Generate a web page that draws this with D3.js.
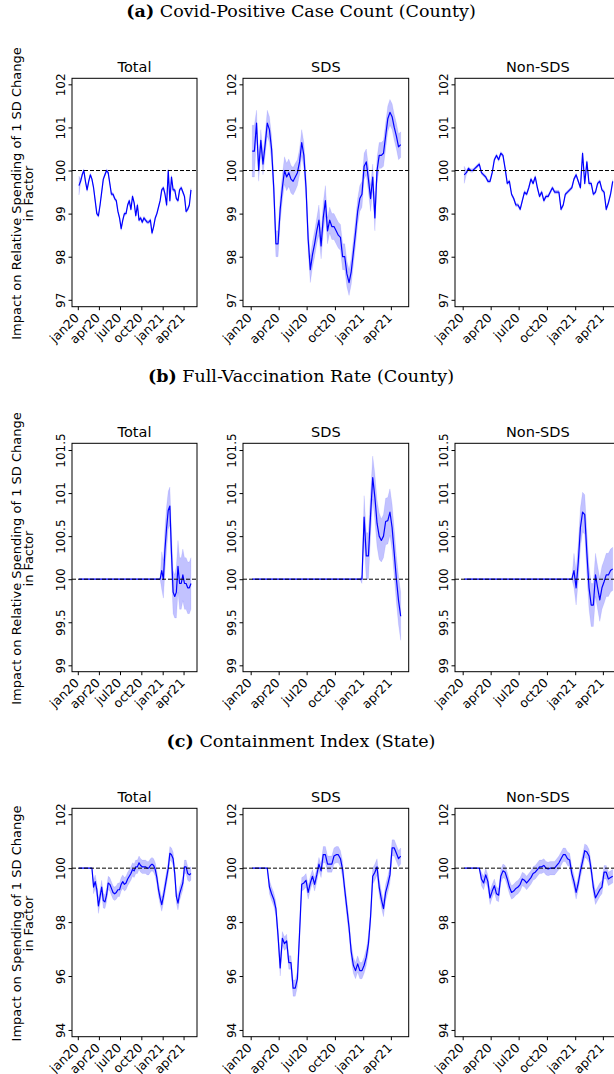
<!DOCTYPE html>
<html>
<head>
<meta charset="utf-8">
<script src="https://cdn.jsdelivr.net/npm/d3@7"></script>
<style>
  body { margin: 0; background: #fff; }
  svg { display: block; }
</style>
</head>
<body>
<script>
// weekly estimates, first week = 6 Jan 2020 (70 weeks)
const caseTotal = [
  99.65, 99.75, 99.9, 100.0, 99.75, 99.55, 99.75, 99.9, 99.8, 99.6,
  99.3, 99.0, 98.95, 99.2, 99.5, 99.8, 99.9, 100.0, 99.95, 99.7,
  99.45, 99.45, 99.35, 99.3, 99.05, 98.9, 98.65, 98.85, 99.0, 99.0,
  99.2, 99.3, 99.1, 99.4, 99.25, 98.95, 99.2, 98.85, 98.9, 98.8,
  98.9, 98.85, 98.8, 98.8, 98.85, 98.55, 98.7, 98.9, 99.0, 99.15,
  99.3, 99.55, 99.6, 99.45, 99.2, 100.0, 99.3, 99.85, 99.55, 99.55,
  99.35, 99.3, 99.55, 99.6, 99.5, 99.4, 99.05, 99.1, 99.2, 99.55
];
const caseTotalCi = [
  0.22, 0.05, 0.04, 0.04, 0.04, 0.04, 0.04, 0.04, 0.04, 0.04,
  0.04, 0.04, 0.04, 0.04, 0.04, 0.04, 0.04, 0.04, 0.04, 0.04,
  0.04, 0.04, 0.04, 0.04, 0.04, 0.04, 0.04, 0.04, 0.04, 0.04,
  0.04, 0.04, 0.04, 0.04, 0.04, 0.04, 0.04, 0.04, 0.04, 0.04,
  0.04, 0.04, 0.04, 0.04, 0.04, 0.04, 0.04, 0.04, 0.04, 0.04,
  0.04, 0.04, 0.04, 0.04, 0.04, 0.04, 0.04, 0.04, 0.04, 0.04,
  0.04, 0.04, 0.04, 0.04, 0.04, 0.04, 0.04, 0.04, 0.04, 0.04
];
const caseSds = [
  100.45, 100.45, 101.1, 100.0, 100.7, 100.15, 100.6, 101.1, 100.95, 100.5,
  99.6, 98.3, 98.3, 99.1, 99.6, 100.0, 99.85, 99.95, 99.8, 99.75,
  99.85, 99.95, 100.2, 100.65, 100.35, 99.6, 98.4, 97.7, 98.05, 98.3,
  98.6, 98.85, 98.25, 98.9, 99.3, 98.6, 98.85, 98.7, 98.7, 98.6,
  98.5, 98.45, 98.0, 98.0, 97.6, 97.4, 97.65, 98.1, 98.55, 99.05,
  99.35, 99.45, 100.1, 100.2, 99.8, 99.35, 99.85, 98.9, 100.0, 100.35,
  100.35, 100.4, 100.8, 101.2, 101.35, 101.25, 101.0, 100.8, 100.55, 100.6
];
const caseSdsCi = [
  0.6, 0.6, 0.3, 0.25, 0.25, 0.25, 0.25, 0.3, 0.3, 0.3,
  0.3, 0.3, 0.3, 0.3, 0.3, 0.32, 0.32, 0.32, 0.32, 0.32,
  0.32, 0.3, 0.3, 0.3, 0.3, 0.3, 0.3, 0.3, 0.3, 0.3,
  0.3, 0.35, 0.3, 0.35, 0.35, 0.3, 0.3, 0.3, 0.3, 0.3,
  0.3, 0.3, 0.3, 0.3, 0.3, 0.3, 0.3, 0.3, 0.3, 0.3,
  0.3, 0.3, 0.3, 0.3, 0.3, 0.3, 0.3, 0.3, 0.3, 0.3,
  0.3, 0.3, 0.3, 0.3, 0.3, 0.3, 0.3, 0.3, 0.3, 0.3
];
const caseNon = [
  99.9, 99.95, 100.05, 100.0, 100.0, 100.05, 100.1, 100.15, 99.95, 99.9,
  99.85, 99.75, 99.75, 99.95, 100.25, 100.35, 100.25, 100.4, 100.35, 100.05,
  99.7, 99.75, 99.45, 99.35, 99.2, 99.2, 99.1, 99.3, 99.5, 99.45,
  99.6, 99.8, 99.7, 99.85, 99.6, 99.4, 99.5, 99.3, 99.4, 99.4,
  99.5, 99.6, 99.5, 99.5, 99.5, 99.1, 99.2, 99.45, 99.5, 99.55,
  99.6, 99.8, 99.9, 99.75, 99.6, 100.4, 99.7, 100.2, 99.7, 99.7,
  99.45, 99.5, 99.7, 99.75, 99.55, 99.5, 99.1, 99.25, 99.45, 99.75
];
const caseNonCi = [
  0.2, 0.05, 0.04, 0.04, 0.04, 0.04, 0.04, 0.04, 0.04, 0.04,
  0.04, 0.04, 0.04, 0.04, 0.04, 0.04, 0.04, 0.04, 0.04, 0.04,
  0.04, 0.04, 0.04, 0.04, 0.04, 0.04, 0.04, 0.04, 0.04, 0.04,
  0.04, 0.04, 0.04, 0.04, 0.04, 0.04, 0.04, 0.04, 0.04, 0.04,
  0.04, 0.04, 0.04, 0.04, 0.04, 0.04, 0.04, 0.04, 0.04, 0.04,
  0.04, 0.04, 0.04, 0.04, 0.04, 0.04, 0.04, 0.04, 0.04, 0.04,
  0.04, 0.04, 0.04, 0.04, 0.04, 0.04, 0.04, 0.04, 0.04, 0.04
];

const vaxTotal = [
  100, 100, 100, 100, 100, 100, 100, 100, 100, 100,
  100, 100, 100, 100, 100, 100, 100, 100, 100, 100,
  100, 100, 100, 100, 100, 100, 100, 100, 100, 100,
  100, 100, 100, 100, 100, 100, 100, 100, 100, 100,
  100, 100, 100, 100, 100, 100, 100, 100, 100, 100,
  100.0, 100.1, 100.0, 100.35, 100.6, 100.8, 100.85, 100.3, 99.85, 99.8,
  99.85, 100.15, 99.95, 99.95, 100.05, 99.95, 99.95, 99.9, 99.9, 99.95
];
const vaxTotalCi = [
  0, 0, 0, 0, 0, 0, 0, 0, 0, 0,
  0, 0, 0, 0, 0, 0, 0, 0, 0, 0,
  0, 0, 0, 0, 0, 0, 0, 0, 0, 0,
  0, 0, 0, 0, 0, 0, 0, 0, 0, 0,
  0, 0, 0, 0, 0, 0, 0, 0, 0, 0,
  0, 0.22, 0.22, 0.25, 0.25, 0.22, 0.22, 0.25, 0.25, 0.25,
  0.3, 0.3, 0.3, 0.3, 0.3, 0.3, 0.3, 0.3, 0.3, 0.3
];
const vaxSds = [
  100, 100, 100, 100, 100, 100, 100, 100, 100, 100,
  100, 100, 100, 100, 100, 100, 100, 100, 100, 100,
  100, 100, 100, 100, 100, 100, 100, 100, 100, 100,
  100, 100, 100, 100, 100, 100, 100, 100, 100, 100,
  100, 100, 100, 100, 100, 100, 100, 100, 100, 100,
  100, 100.0, 100.72, 100.27, 100.27, 100.75, 101.18, 100.95, 100.65, 100.5,
  100.45, 100.5, 100.67, 100.68, 100.78, 100.6, 100.3, 100.0, 99.75, 99.57
];
const vaxSdsCi = [
  0, 0, 0, 0, 0, 0, 0, 0, 0, 0,
  0, 0, 0, 0, 0, 0, 0, 0, 0, 0,
  0, 0, 0, 0, 0, 0, 0, 0, 0, 0,
  0, 0, 0, 0, 0, 0, 0, 0, 0, 0,
  0, 0, 0, 0, 0, 0, 0, 0, 0, 0,
  0, 0.05, 0.25, 0.27, 0.27, 0.25, 0.25, 0.27, 0.27, 0.27,
  0.25, 0.25, 0.27, 0.27, 0.27, 0.27, 0.27, 0.27, 0.28, 0.28
];
const vaxNon = [
  100, 100, 100, 100, 100, 100, 100, 100, 100, 100,
  100, 100, 100, 100, 100, 100, 100, 100, 100, 100,
  100, 100, 100, 100, 100, 100, 100, 100, 100, 100,
  100, 100, 100, 100, 100, 100, 100, 100, 100, 100,
  100, 100, 100, 100, 100, 100, 100, 100, 100, 100,
  100, 100.1, 99.9, 100.2, 100.6, 100.78, 100.75, 100.3, 99.9, 99.7,
  99.7, 100.05, 99.9, 99.76, 99.9, 99.97, 100.05, 100.05, 100.1, 100.12
];
const vaxNonCi = [
  0, 0, 0, 0, 0, 0, 0, 0, 0, 0,
  0, 0, 0, 0, 0, 0, 0, 0, 0, 0,
  0, 0, 0, 0, 0, 0, 0, 0, 0, 0,
  0, 0, 0, 0, 0, 0, 0, 0, 0, 0,
  0, 0, 0, 0, 0, 0, 0, 0, 0, 0,
  0, 0.2, 0.2, 0.22, 0.23, 0.23, 0.23, 0.25, 0.25, 0.25,
  0.25, 0.25, 0.25, 0.25, 0.25, 0.25, 0.25, 0.25, 0.25, 0.25
];

const contTotal = [
  100, 100, 100, 100, 100, 100, 100, 100, 100, 99.3,
  99.5, 99.2, 98.6, 98.95, 99.3, 98.8, 98.75, 99.0, 99.45, 99.4,
  99.25, 99.1, 99.05, 99.1, 99.2, 99.2, 99.4, 99.5, 99.4, 99.45,
  99.6, 99.7, 99.8, 99.95, 99.9, 100.05, 100.05, 100.2, 100.1, 100.05,
  100.05, 100.05, 100.0, 100.0, 100.1, 100.15, 100.1, 99.95, 99.65, 99.2,
  98.9, 98.65, 98.95, 99.3, 99.65, 100.0, 100.55, 100.5, 100.35, 99.8,
  98.95, 98.7, 99.05, 99.25, 99.45, 100.05, 100.05, 99.8, 99.75, 99.8
];
const contTotalCi = [
  0, 0, 0, 0, 0, 0, 0, 0, 0, 0.25,
  0.25, 0.25, 0.28, 0.25, 0.25, 0.28, 0.25, 0.25, 0.25, 0.25,
  0.25, 0.25, 0.25, 0.25, 0.25, 0.25, 0.25, 0.25, 0.25, 0.25,
  0.25, 0.25, 0.25, 0.25, 0.25, 0.25, 0.25, 0.25, 0.25, 0.25,
  0.25, 0.25, 0.25, 0.25, 0.25, 0.25, 0.25, 0.25, 0.25, 0.25,
  0.25, 0.25, 0.25, 0.25, 0.25, 0.25, 0.25, 0.25, 0.25, 0.25,
  0.25, 0.25, 0.25, 0.25, 0.25, 0.25, 0.25, 0.25, 0.25, 0.25
];
const contSds = [
  100, 100, 100, 100, 100, 100, 100, 100, 99.3, 99.05,
  98.85, 98.5, 97.5, 96.3, 97.4, 97.2, 97.3, 96.5, 96.5, 95.55,
  95.55, 95.9, 97.6, 99.4, 99.45, 99.55, 99.1, 99.45, 99.7, 99.4,
  99.75, 100.15, 99.9, 100.5, 100.5, 100.15, 100.15, 100.15, 100.45, 100.5,
  100.5, 100.35, 99.95, 99.2, 98.5, 97.8, 96.9, 96.4, 96.2, 96.45,
  96.2, 96.2, 96.4, 96.7, 97.2, 98.2, 99.7, 99.85, 100.05, 99.3,
  98.85, 98.5, 99.1, 99.4, 99.75, 100.75, 100.75, 100.55, 100.35, 100.45
];
const contSdsCi = [
  0, 0, 0, 0, 0, 0, 0, 0, 0.25, 0.25,
  0.25, 0.25, 0.3, 0.3, 0.25, 0.25, 0.25, 0.25, 0.25, 0.3,
  0.3, 0.3, 0.3, 0.25, 0.25, 0.25, 0.25, 0.25, 0.25, 0.25,
  0.25, 0.25, 0.25, 0.3, 0.3, 0.3, 0.3, 0.3, 0.3, 0.3,
  0.3, 0.3, 0.3, 0.3, 0.3, 0.3, 0.3, 0.3, 0.3, 0.3,
  0.3, 0.3, 0.3, 0.3, 0.3, 0.3, 0.3, 0.3, 0.3, 0.3,
  0.3, 0.3, 0.3, 0.3, 0.3, 0.3, 0.3, 0.3, 0.3, 0.3
];
const contNon = [
  100, 100, 100, 100, 100, 100, 100, 100, 99.6, 99.45,
  99.75, 99.5, 98.9, 99.15, 99.35, 99.05, 99.0, 99.7, 99.9, 99.85,
  99.6, 99.3, 99.1, 99.15, 99.25, 99.3, 99.4, 99.6, 99.55, 99.45,
  99.55, 99.65, 99.8, 99.85, 99.95, 100.05, 100.05, 100.1, 100.0, 99.97,
  100.0, 100.0, 100.0, 100.1, 100.2, 100.35, 100.5, 100.5, 100.35, 100.3,
  99.8, 99.5, 99.1, 99.45, 99.9, 100.25, 100.65, 100.6, 100.45, 99.95,
  99.3, 98.9, 99.05, 99.2, 99.3, 99.85, 99.85, 99.6, 99.65, 99.7
];
const contNonCi = [
  0, 0, 0, 0, 0, 0, 0, 0, 0.25, 0.25,
  0.25, 0.25, 0.25, 0.25, 0.25, 0.25, 0.25, 0.25, 0.25, 0.25,
  0.25, 0.25, 0.25, 0.25, 0.25, 0.25, 0.25, 0.25, 0.25, 0.25,
  0.25, 0.25, 0.25, 0.25, 0.25, 0.25, 0.25, 0.25, 0.25, 0.25,
  0.25, 0.25, 0.25, 0.25, 0.25, 0.25, 0.25, 0.25, 0.25, 0.25,
  0.25, 0.25, 0.25, 0.25, 0.25, 0.25, 0.25, 0.25, 0.25, 0.25,
  0.25, 0.25, 0.25, 0.25, 0.25, 0.25, 0.25, 0.25, 0.25, 0.25
];

const tickDates = ["2020-01-01", "2020-04-01", "2020-07-01", "2020-10-01", "2021-01-01", "2021-04-01"];
const tickNames = ["jan20", "apr20", "jul20", "oct20", "jan21", "apr21"];
const panelNames = ["Total", "SDS", "Non-SDS"];
const caseTicks = [97, 98, 99, 100, 101, 102];
const vaxTicks = [99, 99.5, 100, 100.5, 101, 101.5];
const contTicks = [94, 96, 98, 100, 102];

const parse = d3.timeParse("%Y-%m-%d");
const firstWeek = parse("2020-01-06");
const dates = caseTotal.map((_, i) => d3.timeDay.offset(firstWeek, 7 * i));
const xDomain = [parse("2019-12-07"), parse("2021-05-29")];

const W = 614, H = 1074;
const boxH = 228.4;
const cols = [
  { x0: 72, x1: 197 },
  { x0: 243, x1: 408.7 },
  { x0: 455, x1: 620.7 }
];

const rows = [
  {
    top: 78.3, tag: "(a)", title: "Covid-Positive Case Count (County)",
    ylab: ["Impact on Relative Spending of 1 SD Change", "in Factor"],
    yDomain: [96.84, 102.14], ticks: caseTicks,
    series: [[caseTotal, caseTotalCi], [caseSds, caseSdsCi], [caseNon, caseNonCi]]
  },
  {
    top: 443.3, tag: "(b)", title: "Full-Vaccination Rate (County)",
    ylab: ["Impact on Relative Spending of 1 SD Change", "in Factor"],
    yDomain: [98.926, 101.578], ticks: vaxTicks,
    series: [[vaxTotal, vaxTotalCi], [vaxSds, vaxSdsCi], [vaxNon, vaxNonCi]]
  },
  {
    top: 808.3, tag: "(c)", title: "Containment Index (State)",
    ylab: ["Impact on Spending of 1 SD Change", "in Factor"],
    yDomain: [93.75, 102.22], ticks: contTicks,
    series: [[contTotal, contTotalCi], [contSds, contSdsCi], [contNon, contNonCi]]
  }
];

const svg = d3.select("body").append("svg")
  .attr("width", W)
  .attr("height", H)
  .attr("font-family", "DejaVu Sans, sans-serif");

svg.append("rect").attr("width", W).attr("height", H).attr("fill", "#fff");

rows.forEach(row => {
  // section header
  const head = svg.append("text")
    .attr("x", 301)
    .attr("y", row.top - 61.6)
    .attr("text-anchor", "middle")
    .attr("font-family", "DejaVu Serif, serif")
    .attr("font-size", 17.5);
  head.append("tspan").attr("font-weight", "bold").text(row.tag);
  head.append("tspan").text(" " + row.title);

  const y = d3.scaleLinear().domain(row.yDomain).range([row.top + boxH, row.top]);
  const midY = row.top + boxH / 2 + 1;

  // y label, two lines
  row.ylab.forEach((line, k) => {
    svg.append("text")
      .attr("transform", `translate(${21 + k * 12.3},${midY}) rotate(-90)`)
      .attr("text-anchor", "middle")
      .attr("font-size", 13)
      .text(line);
  });

  cols.forEach((c, j) => {
    const x = d3.scaleTime().domain(xDomain).range([c.x0, c.x1]);
    const [vals, ci] = row.series[j];
    const pts = vals.map((v, i) => ({ d: dates[i], v: v, lo: v - ci[i], hi: v + ci[i] }));

    const g = svg.append("g");

    g.append("path")
      .datum(pts)
      .attr("fill", "blue")
      .attr("fill-opacity", 0.24)
      .attr("stroke", "blue")
      .attr("stroke-opacity", 0.1)
      .attr("stroke-width", 0.8)
      .attr("d", d3.area().x(p => x(p.d)).y0(p => y(p.lo)).y1(p => y(p.hi)));

    g.append("path")
      .datum(pts)
      .attr("fill", "none")
      .attr("stroke", "blue")
      .attr("stroke-width", 1.2)
      .attr("stroke-linejoin", "round")
      .attr("d", d3.line().x(p => x(p.d)).y(p => y(p.v)));

    // reference line at 100
    g.append("line")
      .attr("x1", c.x0).attr("x2", c.x1)
      .attr("y1", y(100)).attr("y2", y(100))
      .attr("stroke", "#000")
      .attr("stroke-width", 1)
      .attr("stroke-dasharray", "4,2");

    // frame
    g.append("rect")
      .attr("x", c.x0).attr("y", row.top)
      .attr("width", c.x1 - c.x0).attr("height", boxH)
      .attr("fill", "none")
      .attr("stroke", "#000")
      .attr("stroke-width", 1);

    // y axis
    const ya = g.append("g")
      .attr("transform", `translate(${c.x0},0)`)
      .call(d3.axisLeft(y).tickValues(row.ticks).tickSize(3.5).tickFormat(d3.format("~g")));
    ya.select(".domain").remove();
    ya.selectAll(".tick line").attr("stroke", "#000");
    ya.selectAll(".tick text")
      .attr("x", 0).attr("y", -7).attr("dy", 0)
      .attr("transform", "rotate(-90)")
      .attr("text-anchor", "middle")
      .attr("font-size", 12)
      .attr("font-family", "DejaVu Sans, sans-serif")
      .attr("fill", "#000");

    // x axis
    const xa = g.append("g")
      .attr("transform", `translate(0,${row.top + boxH})`)
      .call(d3.axisBottom(x).tickValues(tickDates.map(parse)).tickSize(3.5)
        .tickFormat((d, i) => tickNames[i]));
    xa.select(".domain").remove();
    xa.selectAll(".tick line").attr("stroke", "#000");
    xa.selectAll(".tick text")
      .attr("x", 0).attr("y", 0).attr("dy", 0)
      .attr("transform", "translate(1.5,12) rotate(-45)")
      .attr("text-anchor", "end")
      .attr("font-size", 12.5)
      .attr("font-family", "DejaVu Sans, sans-serif")
      .attr("fill", "#000");

    // panel title
    g.append("text")
      .attr("x", (c.x0 + c.x1) / 2)
      .attr("y", row.top - 6)
      .attr("text-anchor", "middle")
      .attr("font-size", 14.5)
      .text(panelNames[j]);
  });
});
</script>
</body>
</html>
